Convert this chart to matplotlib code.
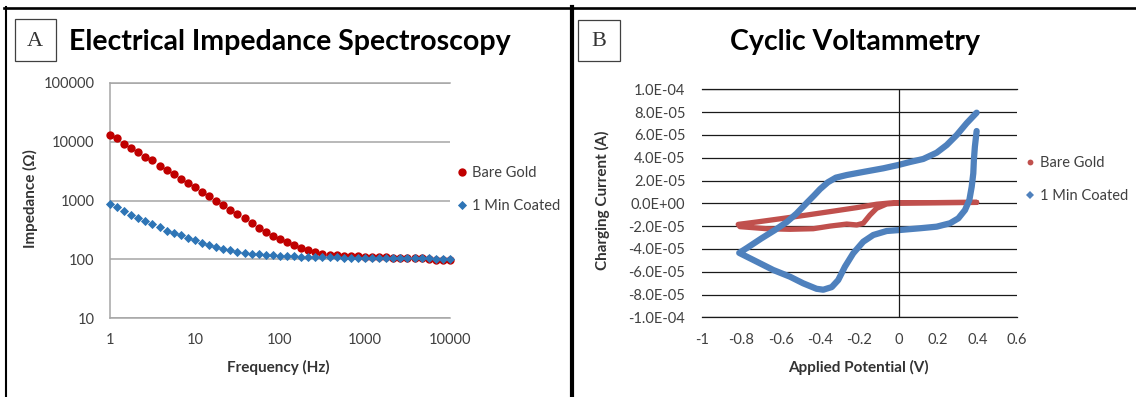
import matplotlib
matplotlib.use("Agg")
import matplotlib.pyplot as plt
from matplotlib.lines import Line2D
from matplotlib.patches import Rectangle

W, H = 1136, 397

# Panel A: impedance spectra
freq_hz = [1, 1.21, 1.47, 1.78, 2.15, 2.61, 3.16, 3.83, 4.64, 5.62, 6.81, 8.25,
           10, 12.1, 14.7, 17.8, 21.5, 26.1, 31.6, 38.3, 46.4, 56.2, 68.1, 82.5,
           100, 121, 147, 178, 215, 261, 316, 383, 464, 562, 681, 825,
           1000, 1210, 1470, 1780, 2150, 2610, 3160, 3830, 4640, 5620, 6810, 8250,
           10000]
z_bare = [13200, 11500, 9300, 7800, 6800, 5600, 4800, 3900, 3300, 2800,
          2350, 2000, 1670, 1380, 1180, 1000, 830, 690, 580, 495,
          410, 345, 295, 253, 218, 197, 177, 156, 141, 132,
          125, 120, 117, 115, 113, 112, 111, 110, 109, 108,
          107, 106, 105, 104, 103, 102, 99, 97, 97]
z_coated = [855, 780, 660, 565, 507, 445, 400, 356, 308, 282,
            254, 231, 211, 190, 176, 160, 150, 141, 134, 129,
            125, 122, 119, 117, 115, 113, 112, 111, 110, 110,
            109, 108, 108, 107, 107, 106, 106, 105, 105, 105,
            104, 104, 104, 103, 103, 103, 102, 102, 101]
freq_ticks = [1, 10, 100, 1000, 10000]
freq_labels = ["1", "10", "100", "1000", "10000"]
z_ticks = [10, 100, 1000, 10000, 100000]
z_labels = ["10", "100", "1000", "10000", "100000"]

# Panel B: cyclic voltammograms (current in microamps)
cv_bare_v = [0.395, 0.2, 0.0, -0.045, -0.113, -0.214, -0.350, -0.468, -0.587,
             -0.722, -0.816, -0.807, -0.671, -0.553, -0.435, -0.350, -0.265,
             -0.214, -0.181, -0.147, -0.113, -0.062, 0.0, 0.2, 0.395]
cv_bare_ua = [0.8, 0.6, 0.5, 0.3, -0.8, -3.8, -7.3, -10.3, -13.2,
              -16.4, -18.5, -20.5, -22.3, -22.8, -22.3, -20.0, -18.2,
              -19.0, -17.5, -10.3, -4.4, -0.6, 0.3, 0.6, 0.8]
cv_coated_v = [0.395, 0.386, 0.381, 0.378, 0.370, 0.358, 0.336, 0.302, 0.260, 0.192,
               0.107, 0.006, -0.062, -0.130, -0.181, -0.232, -0.274, -0.308, -0.341, -0.384,
               -0.418, -0.486, -0.553, -0.638, -0.722, -0.811, -0.770, -0.700, -0.630, -0.570,
               -0.520, -0.470, -0.430, -0.400, -0.360, -0.320, -0.265, -0.181, -0.079, -0.003,
               0.056, 0.124, 0.192, 0.243, 0.294, 0.344, 0.395]
cv_coated_ua = [63.4, 49.6, 38.0, 26.3, 14.6, 2.9, -5.9, -13.2, -17.5, -20.5,
                -21.9, -23.4, -24.3, -27.8, -33.7, -43.9, -55.6, -67.3, -73.5, -75.8,
                -75.0, -70.2, -64.4, -58.5, -51.2, -43.5, -39.0, -31.0, -23.5, -16.5,
                -9.0, 0.0, 7.0, 12.5, 18.5, 22.5, 24.8, 27.5, 30.7, 33.6,
                36.2, 38.9, 44.4, 51.1, 59.9, 70.2, 79.5]
v_ticks = [-1, -0.8, -0.6, -0.4, -0.2, 0, 0.2, 0.4, 0.6]
v_labels = ["-1", "-0.8", "-0.6", "-0.4", "-0.2", "0", "0.2", "0.4", "0.6"]
i_ticks = [1e-4, 8e-5, 6e-5, 4e-5, 2e-5, 0, -2e-5, -4e-5, -6e-5, -8e-5, -1e-4]
i_labels = ["1.0E-04", "8.0E-05", "6.0E-05", "4.0E-05", "2.0E-05", "0.0E+00",
            "-2.0E-05", "-4.0E-05", "-6.0E-05", "-8.0E-05", "-1.0E-04"]

series_names = ["Bare Gold", "1 Min Coated"]

plt.rcParams["font.family"] = ["Lato", "DejaVu Sans"]
TICK_COLOR = "#404040"


def rect(x0, y0, x1, y1):
    """pixel box (top-left origin) -> figure fraction rect"""
    return [x0 / W, 1 - y1 / H, (x1 - x0) / W, (y1 - y0) / H]


def fx(x):
    return x / W


def fy(y):
    return 1 - y / H


fig = plt.figure(figsize=(W / 100, H / 100), dpi=100)

# ---- Panel A ----
ax = fig.add_axes(rect(110, 83, 450, 318))
ax.plot(freq_hz, z_bare, "o", color="#C00000", ms=6.0, mew=0, label=series_names[0],
        clip_on=False, zorder=3)
ax.plot(freq_hz, z_coated, "D", color="#2E75B6", ms=4.2, mew=0.6, mec="#2E75B6",
        label=series_names[1], clip_on=False, zorder=3)
ax.set_xscale("log")
ax.set_yscale("log")
ax.set_xlim(1, 10000)
ax.set_ylim(10, 100000)
ax.minorticks_off()
ax.set_xticks(freq_ticks, freq_labels)
ax.set_yticks(z_ticks, z_labels)
ax.tick_params(length=0, labelsize=10.5, labelcolor=TICK_COLOR)
ax.tick_params(axis="x", pad=11)
ax.tick_params(axis="y", pad=11)
ax.yaxis.grid(True, color="#A6A6A6", lw=1.1)
for side in ["top", "bottom", "left"]:
    ax.spines[side].set_color("#A6A6A6")
    ax.spines[side].set_linewidth(1.1)
ax.spines["right"].set_visible(False)
ax.set_xlabel("Frequency (Hz)", fontsize=11, fontweight="bold", color="#333333", va="center")
ax.xaxis.set_label_coords(0.494, -0.209)
ax.set_ylabel("Impedance (\u03a9)", fontsize=11, fontweight="bold", color="#333333", va="center")
ax.yaxis.set_label_coords(-0.235, 0.51)
ax.legend(loc="center left", bbox_to_anchor=(fx(455), fy(189.5)),
          bbox_transform=fig.transFigure, frameon=False, fontsize=10.5,
          handlelength=1.0, handletextpad=0.2, borderpad=0, borderaxespad=0,
          labelspacing=1.25, labelcolor=TICK_COLOR)
fig.text(fx(290), fy(42), "Electrical Impedance Spectroscopy", ha="center", va="center",
         fontsize=20.5, fontweight="bold")

# ---- Panel B ----
bx = fig.add_axes(rect(702, 89.3, 1017, 317.3))
bx.plot(cv_bare_v, [i * 1e-6 for i in cv_bare_ua], color="#C0504D", lw=3.8,
        solid_capstyle="round", solid_joinstyle="round")
bx.plot(cv_coated_v, [i * 1e-6 for i in cv_coated_ua], color="#4F81BD", lw=4.5,
        solid_capstyle="round", solid_joinstyle="round")
bx.set_xlim(-1, 0.6)
bx.set_ylim(-1e-4, 1e-4)
bx.set_xticks(v_ticks, v_labels)
bx.set_yticks(i_ticks, i_labels)
bx.tick_params(length=0, labelsize=10.5, labelcolor=TICK_COLOR)
bx.tick_params(axis="x", pad=11)
bx.tick_params(axis="y", pad=12)
bx.yaxis.grid(True, color="#1A1A1A", lw=0.9)
bx.axvline(0, color="#1A1A1A", lw=0.9)
for side in ["left", "right"]:
    bx.spines[side].set_visible(False)
for side in ["top", "bottom"]:
    bx.spines[side].set_color("#1A1A1A")
    bx.spines[side].set_linewidth(0.9)
bx.set_xlabel("Applied Potential (V)", fontsize=11, fontweight="bold", color="#333333", va="center")
bx.xaxis.set_label_coords(0.498, -0.218)
bx.set_ylabel("Charging Current (A)", fontsize=11, fontweight="bold", color="#333333", va="center")
bx.yaxis.set_label_coords(-0.317, 0.514)
b_handles = [Line2D([], [], ls="none", marker="o", ms=4.2, mew=0, color="#C0504D"),
             Line2D([], [], ls="none", marker="D", ms=3.8, mew=0, color="#4F81BD")]
bx.legend(b_handles, series_names, loc="center left", bbox_to_anchor=(fx(1023), fy(179.5)),
          bbox_transform=fig.transFigure, frameon=False, fontsize=10.5,
          handlelength=1.0, handletextpad=0.2, borderpad=0, borderaxespad=0,
          labelspacing=1.25, labelcolor=TICK_COLOR)
fig.text(fx(855), fy(42), "Cyclic Voltammetry", ha="center", va="center",
         fontsize=20.5, fontweight="bold")

# ---- panel frames and letter boxes ----
fig.add_artist(Line2D([fx(4), 1], [fy(8), fy(8)], color="black", lw=1.9))
fig.add_artist(Line2D([fx(6), fx(6)], [fy(7), 0], color="black", lw=1.5))
fig.add_artist(Line2D([fx(572), fx(572)], [fy(7), 0], color="black", lw=3.0))
for (x0, y0, x1, y1), letter in [((14.5, 19, 56, 61), "A"), ((578, 20, 620, 61), "B")]:
    fig.add_artist(Rectangle((fx(x0), fy(y1)), fx(x1 - x0), (y1 - y0) / H,
                             transform=fig.transFigure, fill=False, ec="#404040", lw=0.9))
    fig.text(fx((x0 + x1) / 2), fy((y0 + y1) / 2 + 1), letter, ha="center", va="center",
             fontsize=16, family="Liberation Serif", color="#333333")

fig.savefig("out.png", dpi=100)
